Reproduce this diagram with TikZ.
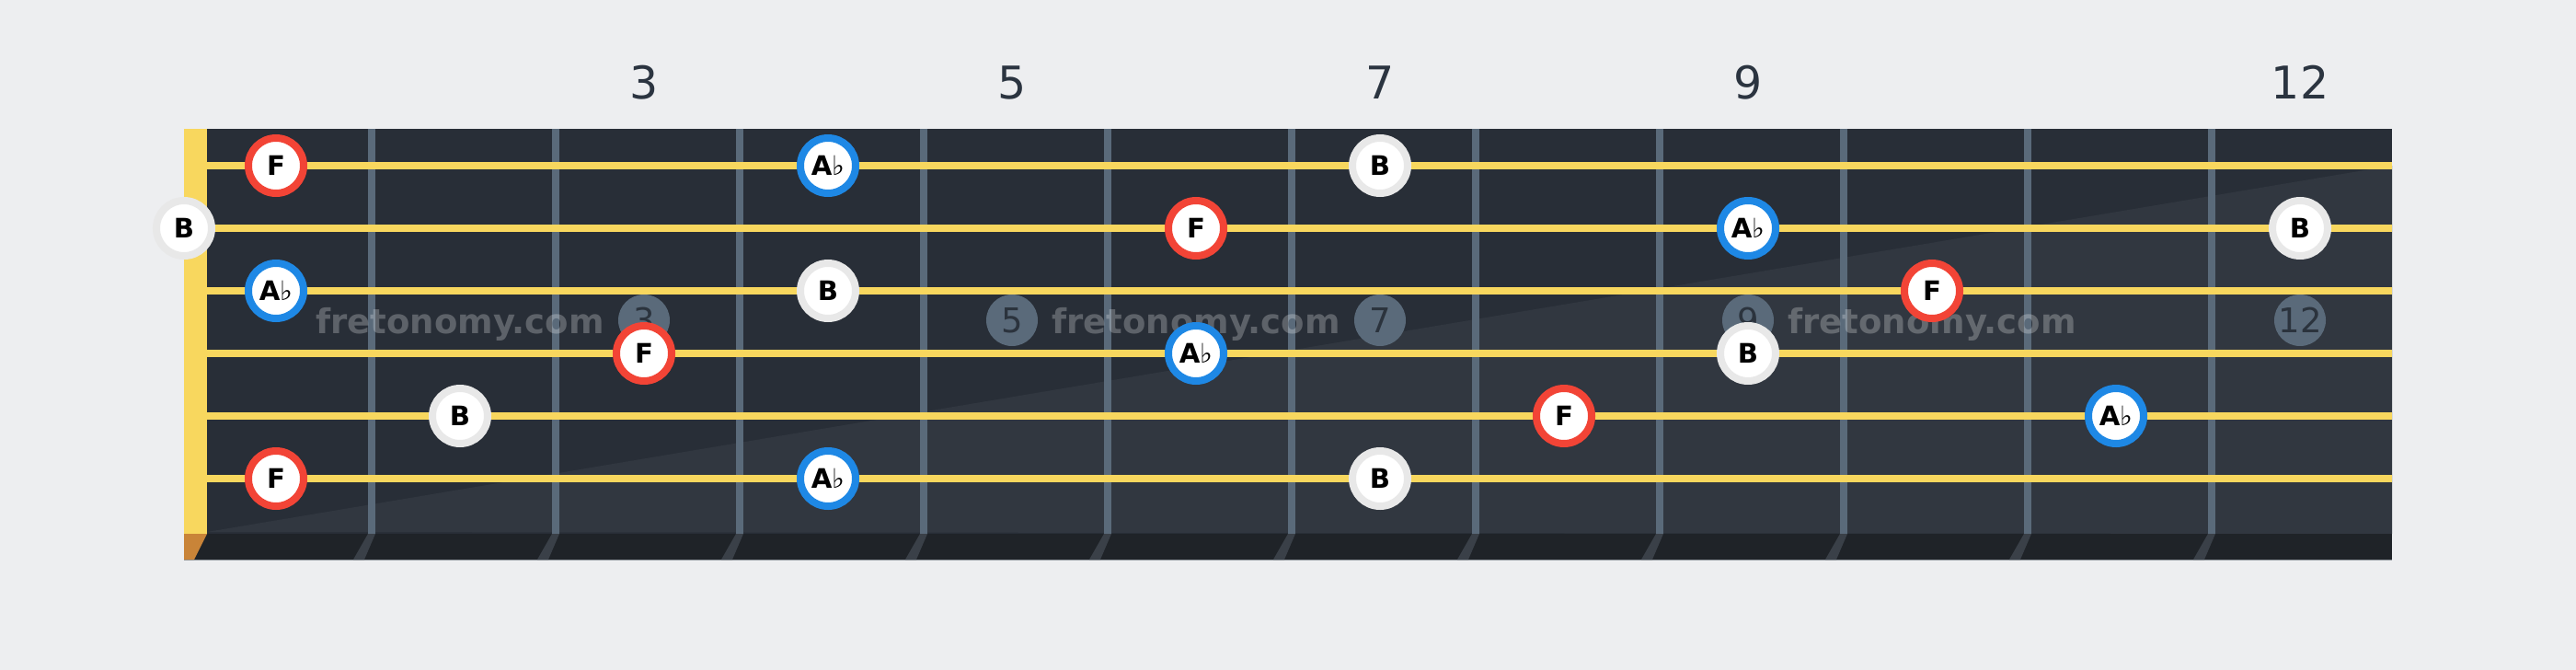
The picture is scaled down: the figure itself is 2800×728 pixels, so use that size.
\documentclass[tikz,border=0pt]{standalone}
\usepackage{fontspec}
\setmainfont{DejaVu Sans}
\newfontfamily\flatfont{DejaVu Sans}
\definecolor{bgcol}{HTML}{EDEEF0}
\definecolor{boarddark}{HTML}{282E37}
\definecolor{boardlight}{HTML}{313740}
\definecolor{stripcol}{HTML}{1F2328}
\definecolor{fretcol}{HTML}{5A6A7A}
\definecolor{stringcol}{HTML}{F8D75E}
\definecolor{tipcol}{HTML}{C98438}
\definecolor{shadowcol}{HTML}{3A4048}
\definecolor{inlaytext}{HTML}{2B333D}
\definecolor{numcol}{HTML}{2B3440}
\definecolor{noteRed}{HTML}{F24436}
\definecolor{noteBlue}{HTML}{1E88E5}
\definecolor{noteGray}{HTML}{E8E8E8}
\definecolor{edgecol}{HTML}{8D939A}
\tikzset{
  note/.style={circle, minimum size=30pt, inner sep=0pt, line width=4pt, fill=white,
    font=\bfseries\fontsize{14.6}{16}\selectfont, text=black},
  redn/.style={note, draw=noteRed},
  bluen/.style={note, draw=noteBlue},
  whiten/.style={note, draw=noteGray},
  inlay/.style={circle, fill=fretcol, minimum size=28pt, inner sep=0pt,
    font=\fontsize{18.5}{20}\selectfont, text=inlaytext},
  wmark/.style={anchor=base, font=\bfseries\fontsize{18.5}{20}\selectfont, text=white, text opacity=0.25},
  fretnum/.style={anchor=base, font=\fontsize{24.5}{26}\selectfont, text=numcol}
}
\newcommand{\flt}{A{\mdseries\flatfont ♭}}
\begin{document}
\begin{tikzpicture}[x=0.5pt,y=-0.5pt]
\useasboundingbox (0,0) rectangle (2800,728);
\fill[bgcol] (0,0) rectangle (2800,728);
% board
\fill[boarddark] (200,140) rectangle (2600,580);
\fill[boardlight] (225,578) -- (2600,180) -- (2600,580) -- cycle;
\fill[stripcol] (200,580) rectangle (2600,608);
\draw[edgecol, line width=0.6pt] (200,608.5) -- (2600,608.5);
% nut
\fill[stringcol] (200,140) rectangle (225,580);
\fill[tipcol] (200,580) -- (225,580) -- (211,608) -- (200,608) -- cycle;
% frets
\foreach \i in {1,...,11}{
  \fill[fretcol] ({200*\i+200},140) rectangle ({200*\i+208},580);
  \fill[shadowcol] ({200*\i+200},580) -- ({200*\i+208},580) -- ({200*\i+196},608) -- ({200*\i+184},608) -- cycle;
}
% strings
\foreach \s in {0,...,5}{
  \fill[stringcol] (225,{176+68*\s}) rectangle (2600,{184+68*\s});
}
% fret numbers
\node[fretnum] (n3) at (700,107) {3};
\node[fretnum] (n5) at (1100,107) {5};
\node[fretnum] (n7) at (1500,107) {7};
\node[fretnum] (n9) at (1900,107) {9};
\node[fretnum] (n12) at (2500,107) {12};
% inlays
\node[inlay] (i3) at (700,348) {3};
\node[inlay] (i5) at (1100,348) {5};
\node[inlay] (i7) at (1500,348) {7};
\node[inlay] (i9) at (1900,348) {9};
\node[inlay] (i12) at (2500,348) {12};
% watermark
\node[wmark] (w1) at (500,362) {fretonomy.com};
\node[wmark] (w2) at (1300,362) {fretonomy.com};
\node[wmark] (w3) at (2100,362) {fretonomy.com};
% notes string 1
\node[redn] (a1) at (300,180) {F};
\node[bluen] (a2) at (900,180) {\flt};
\node[whiten] (a3) at (1500,180) {B};
% string 2
\node[whiten] (b0) at (200,248) {B};
\node[redn] (b1) at (1300,248) {F};
\node[bluen] (b2) at (1900,248) {\flt};
\node[whiten] (b3) at (2500,248) {B};
% string 3
\node[bluen] (c1) at (300,316) {\flt};
\node[whiten] (c2) at (900,316) {B};
\node[redn] (c3) at (2100,316) {F};
% string 4
\node[redn] (d1) at (700,384) {F};
\node[bluen] (d2) at (1300,384) {\flt};
\node[whiten] (d3) at (1900,384) {B};
% string 5
\node[whiten] (e1) at (500,452) {B};
\node[redn] (e2) at (1700,452) {F};
\node[bluen] (e3) at (2300,452) {\flt};
% string 6
\node[redn] (f1) at (300,520) {F};
\node[bluen] (f2) at (900,520) {\flt};
\node[whiten] (f3) at (1500,520) {B};
\end{tikzpicture}
\end{document}
